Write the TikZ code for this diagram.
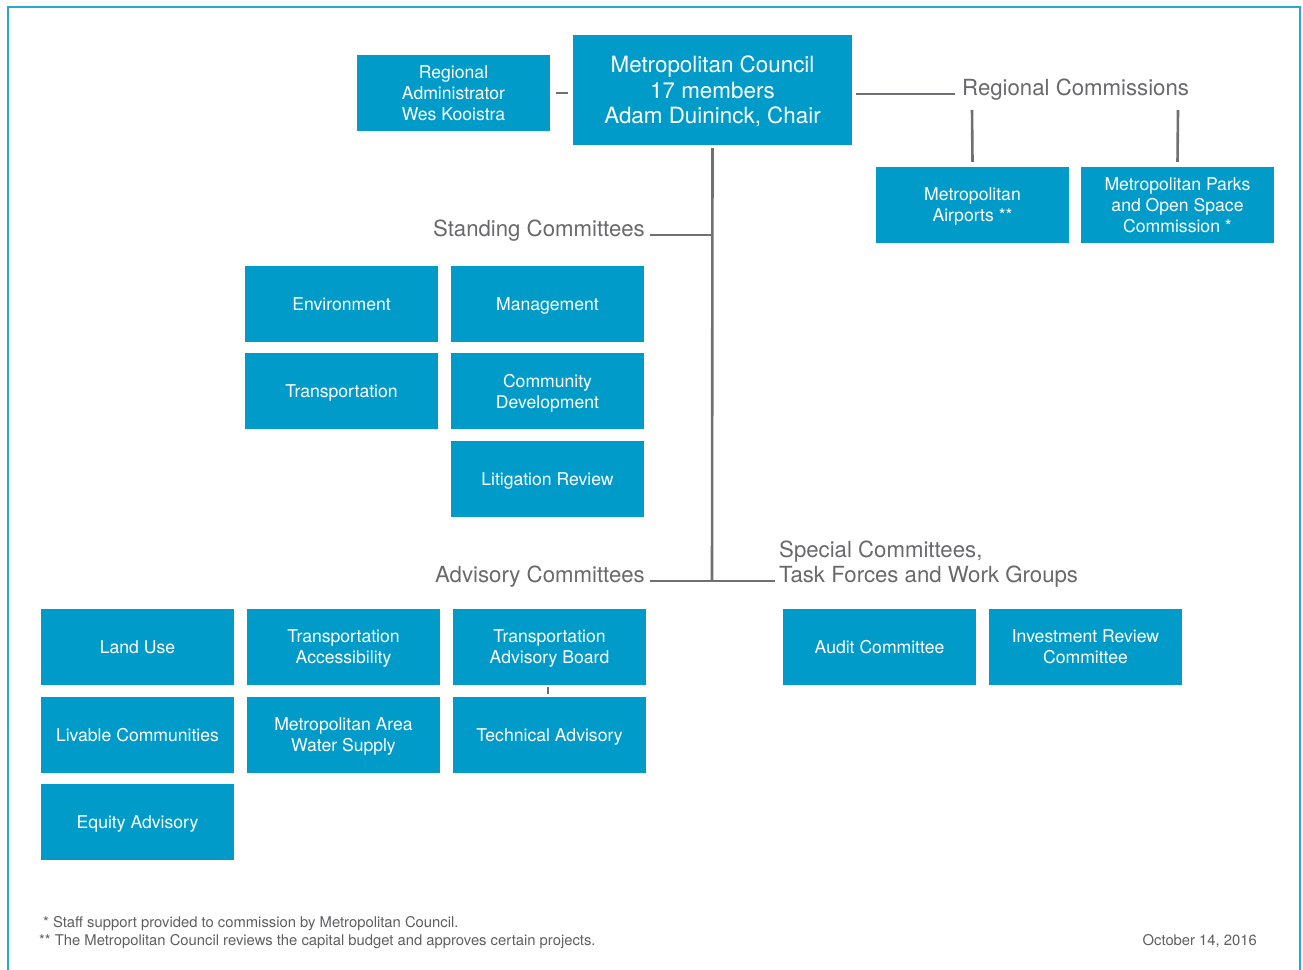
\documentclass[tikz,border=0pt]{standalone}
\usepackage{fontspec}
\setmainfont{TeX Gyre Heros}
\definecolor{boxblue}{RGB}{0,155,201}
\definecolor{linegray}{RGB}{112,112,116}
\definecolor{labelgray}{RGB}{105,105,108}
\definecolor{notegray}{RGB}{95,95,98}
\definecolor{framecol}{RGB}{40,168,210}
\newcommand{\nodesc}[1]{\raisebox{0pt}[\height][0pt]{#1}}
\begin{document}
\begin{tikzpicture}[x=1pt,y=-1pt,
  orgbox/.style={fill=boxblue,text=white,minimum width=193,minimum height=76,inner sep=0,align=center,font=\fontsize{17.6}{21}\selectfont},
  biglabel/.style={text=labelgray,inner sep=0,font=\fontsize{22.2}{25}\selectfont},
  conn/.style={draw=linegray,line width=2.6},
  note/.style={text=notegray,inner sep=0,font=\fontsize{14.8}{17}\selectfont}]
\useasboundingbox (0,0) rectangle (1303,969);
\fill[white] (0,0) rectangle (1303,969);
\draw[framecol,line width=2] (8,980) -- (8,7) -- (1300,7) -- (1300,980);

% top
\node[orgbox,minimum width=279,minimum height=110,font=\fontsize{22.4}{25.5}\selectfont] (council) at (712.5,90) {Metropolitan Council\\17 members\\\nodesc{Adam Duininck, Chair}};
\node[orgbox] (ra) at (453.5,93) {Regional\\Administrator\\\nodesc{Wes Kooistra}};
\node[biglabel,anchor=base west] (rc) at (962,95.5) {Regional Commissions};
\node[orgbox] (airports) at (972.5,205) {Metropolitan\\\nodesc{Airports **}};
\node[orgbox] (parks) at (1177.5,205) {Metropolitan Parks\\and Open Space\\\nodesc{Commission *}};

% standing
\node[biglabel,anchor=base east] (sc) at (645,236.5) {Standing Committees};
\node[orgbox] (env) at (341.5,304) {\nodesc{Environment}};
\node[orgbox] (mgmt) at (547.5,304) {\nodesc{Management}};
\node[orgbox] (trans) at (341.5,391) {\nodesc{Transportation}};
\node[orgbox] (comm) at (547.5,391) {Community\\\nodesc{Development}};
\node[orgbox] (lit) at (547.5,479) {\nodesc{Litigation Review}};

% advisory
\node[biglabel,anchor=base east] (ac) at (645,582.5) {Advisory Committees};
\node[biglabel,anchor=west,align=left] (spc) at (779,564) {Special Committees,\\Task Forces and Work Groups};
\node[orgbox] (land) at (137.5,647) {\nodesc{Land Use}};
\node[orgbox] (ta) at (343.5,647) {Transportation\\\nodesc{Accessibility}};
\node[orgbox] (tab) at (549.5,647) {Transportation\\\nodesc{Advisory Board}};
\node[orgbox] (liv) at (137.5,735) {\nodesc{Livable Communities}};
\node[orgbox] (water) at (343.5,735) {Metropolitan Area\\\nodesc{Water Supply}};
\node[orgbox] (tech) at (549.5,735) {\nodesc{Technical Advisory}};
\node[orgbox] (equity) at (137.5,822) {\nodesc{Equity Advisory}};
\node[orgbox] (audit) at (879.5,647) {\nodesc{Audit Committee}};
\node[orgbox] (invest) at (1085.5,647) {Investment Review\\\nodesc{Committee}};

% coordinates
\coordinate (jsc) at (712,235);
\coordinate (jac) at (712,581);
\coordinate (scL) at (650,235);
\coordinate (acL) at (650,581);
\coordinate (spL) at (775,581);
\coordinate (rcL) at (955,94);
\coordinate (rcA) at (972,110);
\coordinate (rcP) at (1178,110);

% connectors
\draw[conn,shorten <=6,shorten >=5] (ra.east) -- (council.west |- ra.east);
\draw[conn,shorten <=4] (council.east |- rcL) -- (rcL);
\draw[conn] (rcA) -- ([yshift=5]airports.north);
\draw[conn] (rcP) -- ([yshift=5]parks.north);
\draw[conn,shorten <=3] (council.south) -- (jac);
\draw[conn] (scL) -- (jsc);
\draw[conn] (acL) -- (jac) -- (spL);
\draw[conn,line width=2,shorten <=2,shorten >=3] ([xshift=-2]tab.south) -- ([xshift=-2]tech.north);

% notes
\node[note,anchor=base west] (n1) at (43,927) {* Staff support provided to commission by Metropolitan Council.};
\node[note,anchor=base west] (n2) at (39,945) {** The Metropolitan Council reviews the capital budget and approves certain projects.};
\node[note,anchor=base east] (date) at (1257,945) {October 14, 2016};
\end{tikzpicture}
\end{document}
